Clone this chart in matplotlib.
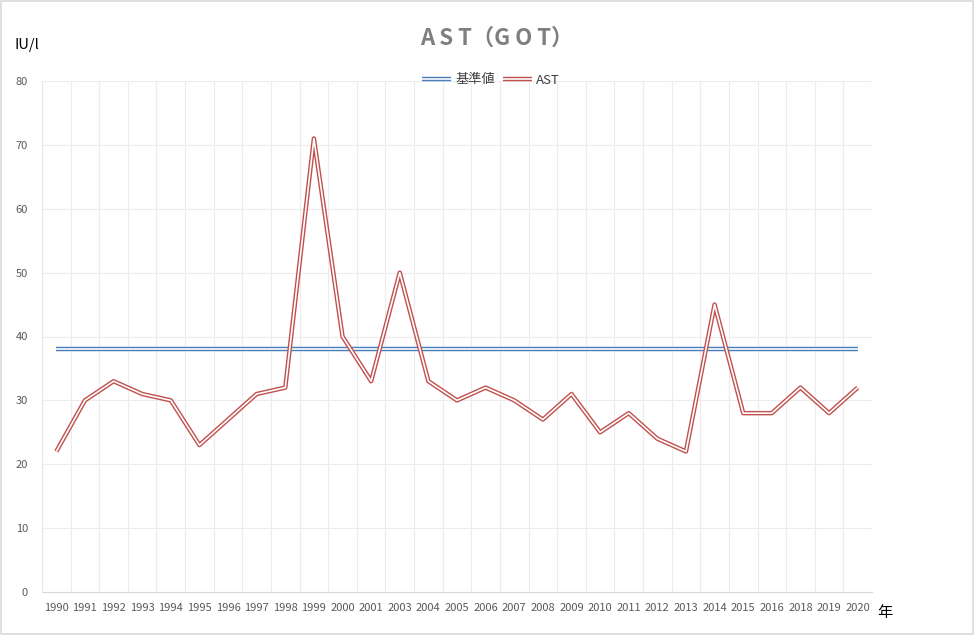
import matplotlib
matplotlib.use("Agg")
import matplotlib.pyplot as plt
from matplotlib.lines import Line2D
from matplotlib.legend_handler import HandlerTuple
from matplotlib.patches import Rectangle

plt.rcParams['font.family'] = ['Noto Sans CJK JP', 'DejaVu Sans']

years = ["1990", "1991", "1992", "1993", "1994", "1995", "1996", "1997", "1998", "1999",
         "2000", "2001", "2003", "2004", "2005", "2006", "2007", "2008", "2009", "2010",
         "2011", "2012", "2013", "2014", "2015", "2016", "2018", "2019", "2020"]
ast = [22, 30, 33, 31, 30, 23, 27, 31, 32, 71,
       40, 33, 50, 33, 30, 32, 30, 27, 31, 25,
       28, 24, 22, 45, 28, 28, 32, 28, 32]
reference = [38] * len(years)

blue = "#4a7ebb"
red = "#c0504d"

fig = plt.figure(figsize=(9.75, 6.36), dpi=100)
fig.patches.append(Rectangle((0.001, 0.003), 0.997, 0.996, transform=fig.transFigure,
                             fill=False, edgecolor="#d9d9d9", lw=1.2))
ax = fig.add_axes([42/975, 1 - 592/636, 830/975, 511/636])

x = list(range(len(years)))

OUT, IN = 3.2, 1.2

def double(xs, ys, color, z):
    ax.plot(xs, ys, color=color, lw=OUT, zorder=z, solid_joinstyle="round",
            solid_capstyle="butt")
    ax.plot(xs, ys, color="white", lw=IN, zorder=z + 0.1, solid_joinstyle="round",
            solid_capstyle="butt")

double(x, reference, blue, 3)
double(x, ast, red, 4)

ax.set_xlim(-0.5, len(years) - 0.5)
ax.set_ylim(0, 80)
ax.set_yticks(range(0, 81, 10))
ax.set_xticks(x)
ax.set_xticklabels(years)
ax.set_xticks([i - 0.5 for i in range(len(years) + 1)], minor=True)
ax.grid(True, which="minor", axis="x", color="#ececec", lw=0.8)
ax.grid(True, which="major", axis="y", color="#ececec", lw=0.8)
ax.set_axisbelow(True)
for s in ["top", "right"]:
    ax.spines[s].set_visible(False)
ax.spines["left"].set_color("#e6e6e6")
ax.spines["bottom"].set_color("#d9d9d9")
ax.tick_params(axis="both", which="both", length=0, colors="#595959", labelsize=8)
ax.tick_params(axis="x", pad=8)
ax.tick_params(axis="y", pad=10)

fig.text(497/975, 1 - 38/636, "A S T（G O T）", ha="center", va="center",
         fontsize=16, fontweight="bold", color="#7f7f7f")
fig.text(14/975, 1 - 45/636, "IU/l", ha="left", va="center", fontsize=10.5, color="black")
fig.text(877/975, 1 - 613/636, "年", ha="left", va="center", fontsize=11, color="black")

def hnd(color):
    return (Line2D([], [], color=color, lw=OUT, solid_capstyle="butt"),
            Line2D([], [], color="white", lw=IN, solid_capstyle="butt"))

leg = fig.legend([hnd(blue), hnd(red)], ["基準値", "AST"],
                 handler_map={tuple: HandlerTuple(ndivide=1)},
                 loc="center", bbox_to_anchor=(491/975, 1 - 80/636), ncol=2,
                 frameon=False, fontsize=9.5, handlelength=2.2, handletextpad=0.3,
                 columnspacing=0.6, labelcolor="#404040")

fig.savefig("out.png", dpi=100)
